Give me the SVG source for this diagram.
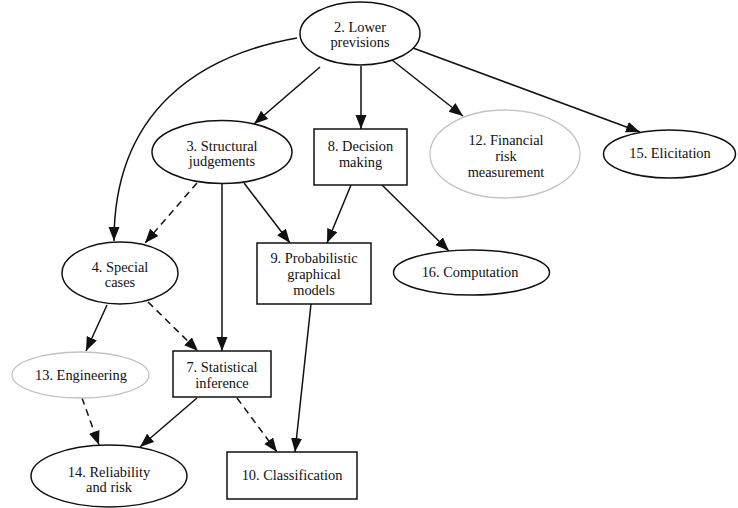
<svg xmlns="http://www.w3.org/2000/svg" width="738" height="508" viewBox="0 0 738 508">
  <style>
    .node { fill: #ffffff; stroke: #111111; stroke-width: 1.5; }
    .faint { fill: #ffffff; stroke: #c4c4c4; stroke-width: 1.3; }
    .edge { fill: none; stroke: #111111; stroke-width: 1.5; marker-end: url(#arrow); }
    .dashed { stroke-dasharray: 7 5; }
  </style>
  <defs>
    <marker id="arrow" markerUnits="userSpaceOnUse" markerWidth="15" markerHeight="12" refX="14" refY="5.5" orient="auto">
      <path d="M0,0 L14,5.5 L0,11 Z" fill="#111111"/>
    </marker>
  </defs>

  <!-- connectors -->
  <g id="edges">
    <path class="edge" d="M297,38 C200,55 114,110 114,241"/>
    <path class="edge" d="M320,67 L254,124"/>
    <path class="edge" d="M361,66 L361,129"/>
    <path class="edge" d="M392,60 L463,116"/>
    <path class="edge" d="M413,48 L640,132"/>
    <path class="edge dashed" d="M197,183 L145,243"/>
    <path class="edge" d="M222,184 L222,351"/>
    <path class="edge" d="M244,183 L290,243"/>
    <path class="edge" d="M351,185 L327,243"/>
    <path class="edge" d="M382,185 L449,251"/>
    <path class="edge" d="M107,305 L86,351"/>
    <path class="edge dashed" d="M148,302 L198,351"/>
    <path class="edge" d="M311,304 L295,452"/>
    <path class="edge dashed" d="M82,398 L99,445"/>
    <path class="edge" d="M197,398 L140,447"/>
    <path class="edge dashed" d="M237,398 L277,452"/>
  </g>

  <!-- nodes; labels share one serif face -->
  <g font-family="Liberation Serif, Times New Roman, DejaVu Serif, serif" font-size="14.4" fill="#111111" text-anchor="middle">
    <g id="n2">
      <ellipse class="node" cx="360" cy="33.5" rx="60" ry="31.5"/>
      <text x="360" y="32">2. Lower</text>
      <text x="360" y="47">previsions</text>
    </g>
    <g id="n3">
      <ellipse class="node" cx="222" cy="152" rx="70" ry="31.5"/>
      <text x="222" y="150.5">3. Structural</text>
      <text x="222" y="166">judgements</text>
    </g>
    <g id="n8">
      <rect class="node" x="314" y="129" width="93" height="56"/>
      <text x="360.5" y="151">8. Decision</text>
      <text x="360.5" y="167">making</text>
    </g>
    <g id="n12">
      <ellipse class="faint" cx="505" cy="154" rx="75" ry="44"/>
      <text x="506" y="145">12. Financial</text>
      <text x="506" y="161">risk</text>
      <text x="506" y="176.5">measurement</text>
    </g>
    <g id="n15">
      <ellipse class="node" cx="669.5" cy="154" rx="66" ry="24"/>
      <text x="670" y="158">15. Elicitation</text>
    </g>
    <g id="n4">
      <ellipse class="node" cx="120" cy="273" rx="58" ry="31"/>
      <text x="120" y="272">4. Special</text>
      <text x="120" y="287">cases</text>
    </g>
    <g id="n9">
      <rect class="node" x="257" y="243" width="114" height="61"/>
      <text x="314" y="263">9. Probabilistic</text>
      <text x="314" y="279">graphical</text>
      <text x="314" y="295">models</text>
    </g>
    <g id="n16">
      <ellipse class="node" cx="471.5" cy="272.5" rx="78" ry="22.5"/>
      <text x="470" y="277">16. Computation</text>
    </g>
    <g id="n13">
      <ellipse class="faint" cx="80.5" cy="375" rx="68.5" ry="23"/>
      <text x="81" y="380">13. Engineering</text>
    </g>
    <g id="n7">
      <rect class="node" x="173" y="351" width="98" height="46"/>
      <text x="222" y="372">7. Statistical</text>
      <text x="222" y="388">inference</text>
    </g>
    <g id="n14">
      <ellipse class="node" cx="109" cy="476" rx="78" ry="31"/>
      <text x="109" y="477">14. Reliability</text>
      <text x="109" y="492">and risk</text>
    </g>
    <g id="n10">
      <rect class="node" x="227" y="452" width="130" height="47"/>
      <text x="292" y="480">10. Classification</text>
    </g>
  </g>
</svg>
